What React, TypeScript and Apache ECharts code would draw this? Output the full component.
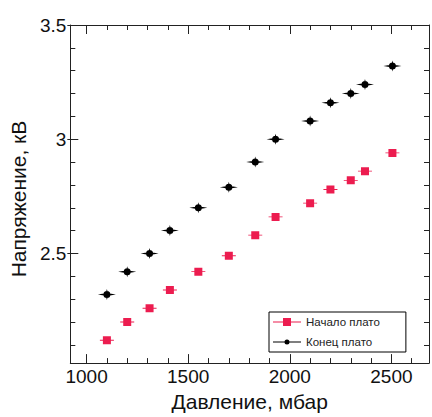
import React, { useEffect, useRef } from "react";
import * as echarts from "echarts";

const pressure = [1100, 1200, 1310, 1410, 1550, 1700, 1830, 1930, 2100, 2200, 2300, 2370, 2505];
const plateauStart = [2.12, 2.2, 2.26, 2.34, 2.42, 2.49, 2.58, 2.66, 2.72, 2.78, 2.82, 2.86, 2.94];
const plateauEnd = [2.32, 2.42, 2.5, 2.6, 2.7, 2.79, 2.9, 3.0, 3.08, 3.16, 3.2, 3.24, 3.32];

const seriesNames = ["Начало плато", "Конец плато"];
const xTitle = "Давление, мбар";
const yTitle = "Напряжение, кВ";

const xMajorTicks = [1000, 1500, 2000, 2500];
const xMinorTicks = [1100, 1200, 1300, 1400, 1600, 1700, 1800, 1900, 2100, 2200, 2300, 2400, 2600];
const yMajorTicks = [2.5, 3, 3.5];
const yMinorTicks = [2.1, 2.2, 2.3, 2.4, 2.6, 2.7, 2.8, 2.9, 3.1, 3.2, 3.3, 3.4];

const X_MIN = 920;
const X_MAX = 2685;
const Y_MIN = 2.02;
const Y_MAX = 3.5;

const FONT = "Liberation Sans, Arial, sans-serif";
const RED = "#ec1c4f";
const AXIS = "#222";

const redSymbol = "path://M0,3.6L14,3.6L14,4.4L0,4.4Z M3,0L11,0L11,8L3,8Z";
const blackSymbol =
  "path://M0,5.5L6,4.5L6,6.5Z M18,5.5L12,6.5L12,4.5Z M9,0L9.8,3L8.2,3Z M9,11L8.2,8L9.8,8Z M5.5,5.5A3.5,3.5 0 1 1 12.5,5.5A3.5,3.5 0 1 1 5.5,5.5Z";
const redIcon = "path://M0,3.5L28,3.5L28,4.5L0,4.5Z M10,0L18,0L18,8L10,8Z";
const blackIcon =
  "path://M0,0L0.01,0L0,0.01Z M0,8L0.01,8L0,7.99Z M0,3.5L28,3.5L28,4.5L0,4.5Z M11.5,4A2.5,2.5 0 1 1 16.5,4A2.5,2.5 0 1 1 11.5,4Z";

const plain = (v: number) => String(v);

function xAxis(position: string, ticks: number[], len: number, showLine: boolean, showLabel: boolean, extra: any = {}) {
  return {
    type: "value",
    position,
    min: X_MIN,
    max: X_MAX,
    splitLine: { show: false },
    axisLine: { show: showLine, onZero: false, lineStyle: { color: AXIS, width: 1 } },
    axisTick: { show: true, inside: true, length: len, customValues: ticks, lineStyle: { color: AXIS } },
    axisLabel: showLabel
      ? { show: true, customValues: ticks, formatter: plain, margin: 4, fontSize: 19, color: "#111", fontFamily: FONT }
      : { show: false },
    ...extra,
  };
}

function yAxis(position: string, ticks: number[], len: number, inside: boolean, showLine: boolean, showLabel: boolean, extra: any = {}) {
  return {
    type: "value",
    position,
    min: Y_MIN,
    max: Y_MAX,
    splitLine: { show: false },
    axisLine: { show: showLine, onZero: false, lineStyle: { color: AXIS, width: 1 } },
    axisTick: { show: true, inside, length: len, customValues: ticks, lineStyle: { color: AXIS } },
    axisLabel: showLabel
      ? { show: true, customValues: ticks, formatter: plain, margin: 4, fontSize: 19, color: "#111", fontFamily: FONT }
      : { show: false },
    ...extra,
  };
}

export default function App() {
  const ref = useRef<HTMLDivElement>(null);
  useEffect(() => {
    if (!ref.current) return;
    const chart = echarts.init(ref.current, undefined, { renderer: "svg" });
    chart.setOption({
      animation: false,
      backgroundColor: "#fff",
      textStyle: { fontFamily: FONT },
      grid: { left: 67, top: 25, right: 3, bottom: 44 },
      legend: {
        orient: "vertical",
        left: 269,
        top: 312,
        padding: [4, 26, 4, 4],
        itemGap: 8,
        itemWidth: 28,
        itemHeight: 8,
        borderColor: "#000",
        borderWidth: 1,
        backgroundColor: "#fff",
        textStyle: { fontSize: 11.5, color: "#222", fontFamily: FONT },
        data: [
          { name: seriesNames[0], icon: redIcon },
          { name: seriesNames[1], icon: blackIcon },
        ],
      },
      xAxis: [
        xAxis("bottom", xMajorTicks, 9, true, true, {
          name: xTitle,
          nameLocation: "middle",
          nameGap: 26,
          nameTextStyle: { fontSize: 21, color: "#111", fontFamily: FONT },
        }),
        xAxis("bottom", xMinorTicks, 5, false, false),
        xAxis("top", xMajorTicks, 9, true, false),
        xAxis("top", xMinorTicks, 5, false, false),
      ],
      yAxis: [
        yAxis("left", yMajorTicks, 8, true, true, true, {
          name: yTitle,
          nameLocation: "middle",
          nameGap: 36,
          nameTextStyle: { fontSize: 21, color: "#111", fontFamily: FONT, padding: [0, 10, 0, 0] },
        }),
        yAxis("left", yMinorTicks, 5, true, false, false),
        yAxis("left", yMajorTicks, 3, false, false, false),
        yAxis("right", yMajorTicks, 5, true, true, false),
        yAxis("right", yMinorTicks, 5, true, false, false),
      ],
      series: [
        {
          name: seriesNames[0],
          type: "scatter",
          xAxisIndex: 0,
          yAxisIndex: 0,
          symbol: redSymbol,
          symbolSize: [14, 8],
          itemStyle: { color: RED, opacity: 1 },
          data: pressure.map((p, i) => [p, plateauStart[i]]),
          z: 3,
        },
        {
          name: seriesNames[1],
          type: "scatter",
          xAxisIndex: 0,
          yAxisIndex: 0,
          symbol: blackSymbol,
          symbolSize: [18, 11],
          itemStyle: { color: "#000", opacity: 1 },
          data: pressure.map((p, i) => [p, plateauEnd[i]]),
          z: 3,
        },
      ],
    });
    return () => chart.dispose();
  }, []);
  return (
    <div
      ref={ref}
      style={{ position: "fixed", left: 0, top: 0, width: 432, height: 417, background: "#fff" }}
    />
  );
}
